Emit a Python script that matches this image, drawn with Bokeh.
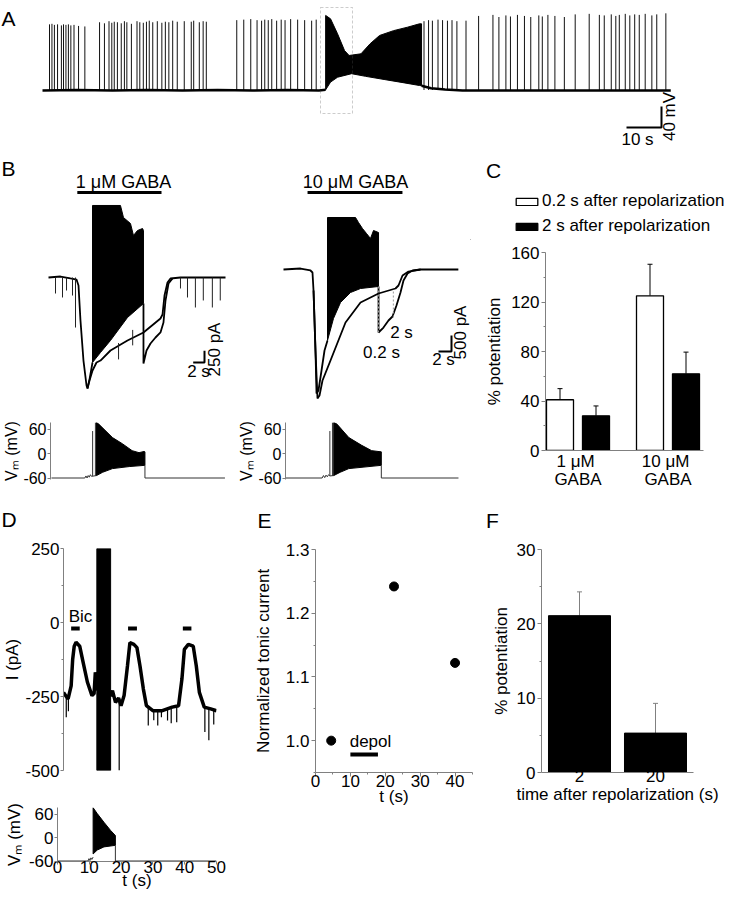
from math import pi
from bokeh.plotting import figure
from bokeh.layouts import column, row
from bokeh.models import (Range1d, FixedTicker, Label, Legend, LegendItem, Whisker, TeeHead,
                          BoxAnnotation, ColumnDataSource, PrintfTickFormatter)
from bokeh.embed import file_html
from bokeh.resources import INLINE

FONT = "Liberation Sans"
AX = "#808080"
TXT = 17
LET = 21

# ======================= DATA =======================
# ---- Panel A: spontaneous firing (t in s, V in mV)
A_spike_t = [2.0, 2.7, 3.4, 4.3, 5.4, 6.0, 6.7, 7.4, 8.1, 9.0, 10.3, 12.1,
             16.3, 17.7, 19.0, 19.8, 20.5, 21.4, 22.5, 23.4, 24.1, 25.4,
             27.0, 27.8, 28.8, 29.7, 30.5, 31.5, 32.8, 34.1, 35.1, 36.1, 37.2, 38.5, 40.5, 42.5, 43.2, 44.8, 45.9, 46.8,
             55.5, 57.5, 59.5, 61.3, 62.6, 63.5, 64.5, 65.5, 66.9, 68.2, 69.3, 70.9, 72.9, 74.9, 76.9, 78.2,
             109.0, 110.3, 111.4, 113.0, 114.3, 115.7, 117.0, 118.4, 121.0,
             124.6, 128.7, 130.4, 132.4, 133.7, 135.7, 137.7, 139.5, 141.8, 142.8, 144.4, 146.4, 149.1,
             152.2, 156.2, 159.1, 160.5, 162.5, 163.8, 164.8, 166.5, 167.8, 169.2, 170.5, 172.2, 174.1, 175.5, 178.1]
A_spike_peak = [66, 67, 65, 66, 64, 66, 65, 66, 64, 65, 63, 62,
                70, 68, 72, 69, 71, 70, 68, 72, 70, 67,
                72, 70, 69, 71, 73, 70, 72, 69, 71, 70, 73, 71, 72, 71, 73, 70, 72, 71,
                74, 75, 76, 74, 73, 75, 74, 76, 73, 75, 74, 76, 75, 74, 73, 75,
                72, 74, 73, 75, 74, 73, 74, 72, 73,
                82, 84, 80, 83, 81, 84, 82, 80, 83, 81, 84, 82, 80,
                85, 86, 84, 83, 85, 82, 84, 86, 83, 85, 84, 86, 83, 85, 87]
A_rest = -59
A_base_t = [0, 10, 20, 30, 40, 50, 60, 70, 79, 80.9]
A_base_v = [-60, -59, -60, -59, -60, -59, -60, -59, -60, -58.7]
A_burst_top_t = [80.9, 82.3, 84.3, 86.3, 87.6, 91.0, 93.6, 96.3, 100.3, 104.3, 107.7, 108.3]
A_burst_top_v = [83, 76.5, 48, 16, 6.7, 9.9, 29, 44.8, 54, 60.6, 67, 67]
A_burst_bot_t = [80.9, 82.3, 84.3, 88.3, 92.3, 97.6, 103.0, 107.7, 108.3]
A_burst_bot_v = [-58.7, -44, -34.7, -28, -33, -39, -45, -50.5, -51]
A_after_t = [108.3, 111.0, 115.0, 120.0, 179.5]
A_after_v = [-51, -55.6, -58, -60, -60]
A_scale = (10, 40)           # 10 s, 40 mV

# ---- Panel B left: 1 uM GABA (t in s, I in pA)
BL_gaba = (5.1, 20.0)
BL_ctrl_t = [0, 2.12, 3.89, 4.96, 5.31, 5.66, 6.19, 6.73, 6.90, 7.26, 7.79, 8.50, 9.20, 10.97, 13.98, 16.81,
             19.82, 20.18, 20.53, 21.06, 21.59, 23.36, 31.33]
BL_ctrl_i = [0, 21, -21, -43, -171, -919, -1774, -2308, -2372, -2201, -1987, -1816, -1774, -1560, -1346, -1175,
             -876, -791, -385, -107, -21, 0, 0]
BL_blk_top_t = [7.79, 12.74, 13.27, 14.51, 15.04, 15.75, 16.64, 16.81]
BL_blk_top_i = [1539, 1539, 1282, 1154, 898, 1004, 1047, 1004]
BL_blk_bot_t = [7.79, 9.20, 10.97, 13.98, 16.81]
BL_blk_bot_i = [-1816, -1603, -1346, -855, -556]
BL_dep_t = [6.90, 7.30, 7.79]
BL_dep_i = [-2372, -2150, -1816]
BL_post_t = [16.81, 16.81, 17.35, 18.05, 18.94, 19.82, 20.35, 20.71, 21.24, 21.95]
BL_post_i = [-556, -1838, -1560, -1410, -1282, -1175, -962, -492, -128, -21]
BL_ev_t = [1.24, 2.48, 3.19, 4.25, 4.78, 12.4, 14.9, 23.36, 24.6, 26.0, 27.4, 29.0, 30.4]
BL_ev_base = [0, 0, 0, 0, 0, -1400, -1120, 0, 0, 0, 0, 0, 0]
BL_ev_tip = [-342, -427, -278, -385, -1069, -1750, -1450, -235, -427, -641, -491, -641, -491]
BL_scale = (2, 250)

# ---- Panel B right: 10 uM GABA
BR_gaba = (3.7, 18.3)
BR_ctrl_t = [0, 2.62, 4.15, 4.46, 4.62, 4.92, 5.23, 5.54, 6.0, 7.23, 9.54, 11.85, 14.62, 17.23, 17.69,
             18.31, 19.23, 21.08, 26.9]
BR_ctrl_i = [0, 31, -31, -94, -656, -2531, -4031, -3938, -3469, -2844, -1656, -1031, -750, -594, -500,
             -188, -63, 0, 0]
BR_dep_t = [4.62, 4.92, 5.08, 5.38, 5.85, 6.31, 6.77]
BR_dep_i = [-656, -2531, -3875, -3781, -3156, -2531, -2219]
BR_blk_top_t = [6.77, 11.08, 11.54, 12.15, 12.77, 13.38, 13.85, 14.62]
BR_blk_top_i = [1625, 1625, 1469, 1281, 1125, 969, 1219, 1156]
BR_blk_bot_t = [6.77, 7.69, 8.77, 10.31, 11.85, 14.62]
BR_blk_bot_i = [-2219, -1531, -1031, -719, -594, -531]
BR_post_t = [14.62, 14.62, 15.38, 16.15, 16.77, 17.38, 18.0, 18.46, 19.08, 19.85, 21.08]
BR_post_i = [-531, -1969, -1813, -1594, -1469, -1125, -719, -344, -125, -31, 0]
BR_mark_t = [14.62, 16.9]            # 0.2 s and 2 s after repolarization
BR_mark_lo = [-1969, -1500]
BR_mark_hi = [-531, -620]
BR_scale = (2, 500)

# ---- Vm during depolarization (mV)
BL_vm_base_t = [0, 6.0, 6.2, 6.4, 6.6, 6.8, 7.0, 7.2, 8.1]
BL_vm_base_v = [-60, -60, -55, -60, -54, -58, -52, -56, -54]
BL_vm_sp_t = [7.4, 7.9]
BL_vm_sp_v = [55, 76]
BL_vm_top_t = [8.1, 8.5, 10.97, 12.74, 14.5, 15.75, 16.64, 16.81]
BL_vm_top_v = [76, 72, 39, 24, 7, 2, 5, 4]
BL_vm_bot_t = [8.1, 9.2, 10.97, 13.98, 16.81]
BL_vm_bot_v = [-54, -46, -37, -32, -29]
BL_vm_end_t = [16.81, 16.81, 31.2]
BL_vm_end_v = [-29, -60, -60]

BR_vm_base_t = [0, 5.7, 5.9, 6.1, 6.3, 6.5, 6.7, 6.9, 7.5]
BR_vm_base_v = [-60, -60, -54, -59, -53, -57, -52, -55, -54]
BR_vm_sp_t = [6.9, 7.3]
BR_vm_sp_v = [55, 76]
BR_vm_top_t = [7.5, 8.0, 9.85, 11.85, 13.4, 14.9]
BR_vm_top_v = [76, 72, 39, 20, 7, 4]
BR_vm_bot_t = [7.5, 8.5, 9.85, 14.9]
BR_vm_bot_v = [-54, -46, -37, -29]
BR_vm_end_t = [14.9, 14.9, 26.9]
BR_vm_end_v = [-29, -60, -60]

# ---- Panel C
C_groups = ["1  \u03bcM\nGABA", "10  \u03bcM\nGABA"]
C_series = ["0.2 s after repolarization", "2 s after repolarization"]
C_early = [41, 125]          # 0.2 s after repolarization
C_early_err = [9, 25.5]
C_late = [28, 62]            # 2 s after repolarization
C_late_err = [8, 17.5]

# ---- Panel D
D_pre_t = [0, 0.9, 1.5, 2.5, 3.0, 3.5, 4.1, 5.3, 6.4, 7.8, 9.3, 10.0, 10.4, 10.9]
D_pre_i = [-236, -250, -258, -214, -124, -80, -67, -80, -134, -201, -247, -240, -168, -230]
D_block = (10.9, 15.4)
D_post_t = [15.4, 16.0, 17.0, 18.0, 18.8, 19.8, 20.9, 21.7, 23.0, 24.0, 25.0, 26.1, 27.1, 29.2, 32.3,
            35.5, 37.6, 38.7, 39.5, 40.8, 42.4, 43.4, 44.4, 46.0, 48.1, 50.0]
D_post_i = [-250, -230, -270, -255, -281, -247, -147, -68, -74, -85, -147, -225, -281, -298, -298,
            -286, -281, -191, -91, -74, -80, -147, -236, -286, -292, -298]
D_ev_t = [0.9, 1.6, 18.2, 27.7, 29.5, 30.8, 32.0, 34.0, 35.2, 37.0, 46.2, 47.5, 49.1]
D_ev_base = [-250, -255, -260, -285, -298, -298, -298, -290, -288, -283, -288, -292, -298]
D_ev_tip = [-320, -300, -500, -348, -330, -348, -320, -331, -340, -337, -370, -398, -345]
D_bic = [(2.5, 5.3), (21.1, 24.0), (39.0, 41.8)]
D_vm_base_t = [0, 9.6, 9.9, 10.2, 10.5, 10.8, 11.2]
D_vm_base_v = [-60, -60, -54, -59, -52, -56, -50]
D_vm_top_t = [11.2, 12.5, 14.6, 16.7, 18.2]
D_vm_top_v = [76, 61, 39, 18, 5]
D_vm_bot_t = [11.2, 12.5, 14.6, 18.2]
D_vm_bot_v = [-42, -32, -24, -20]
D_vm_end_t = [18.2, 18.2, 50]
D_vm_end_v = [-20, -60, -60]

# ---- Panel E
E_t = [4.5, 22.5, 40.0]
E_norm = [1.0, 1.242, 1.122]
E_depol = (10.0, 17.9)

# ---- Panel F
F_labels = ["2", "20"]
F_pot = [21.1, 5.3]
F_err = [3.2, 4.0]


# ======================= LAYOUT HELPERS =======================
class Spec:
    """Placement of one figure in page pixels (origin, size, borders, axis mapping)."""
    def __init__(s, ox, oy, w, h, l=0, r=0, t=0, b=0, xmap=None, ymap=None, xr=None, yr=None):
        s.w, s.h, s.l, s.r, s.t, s.b = w, h, l, r, t, b
        s.fl, s.fr, s.ft, s.fb = ox + l, ox + w - r, oy + t, oy + h - b
        if xmap:
            a, v, k = xmap
            s.x0, s.x1 = v + (s.fl - a) / k, v + (s.fr - a) / k
        else:
            s.x0, s.x1 = xr if xr else (0, 1)
        if ymap:
            a, v, k = ymap
            s.y0, s.y1 = v - (s.fb - a) / k, v + (a - s.ft) / k
        else:
            s.y0, s.y1 = yr if yr else (0, 1)

    def dx(s, rx):
        return s.x0 + (rx - s.fl) / (s.fr - s.fl) * (s.x1 - s.x0)

    def dy(s, ry):
        return s.y0 + (s.fb - ry) / (s.fb - s.ft) * (s.y1 - s.y0)


def make_fig(s, xaxis=False, yaxis=False):
    p = figure(width=s.w, height=s.h, x_range=Range1d(s.x0, s.x1), y_range=Range1d(s.y0, s.y1),
               output_backend="svg", toolbar_location=None,
               x_axis_location="below" if xaxis else None,
               y_axis_location="left" if yaxis else None,
               min_border_left=s.l, min_border_right=s.r, min_border_top=s.t, min_border_bottom=s.b)
    if "frame_align" in p.properties():
        p.frame_align = False
    p.outline_line_color = None
    p.xgrid.visible = False
    p.ygrid.visible = False
    p.border_fill_color = "white"
    p.background_fill_color = "white"
    for ax in p.axis:
        ax.axis_line_color = AX
        ax.major_tick_line_color = AX
        ax.minor_tick_line_color = AX
        ax.major_tick_out = 4
        ax.major_tick_in = 0
        ax.minor_tick_out = 2
        ax.minor_tick_in = 0
        ax.major_label_text_font = FONT
        ax.major_label_text_font_size = f"{TXT}px"
        ax.major_label_text_color = "black"
        ax.axis_label_text_font = FONT
        ax.axis_label_text_font_size = f"{TXT}px"
        ax.axis_label_text_font_style = "normal"
        ax.axis_label_text_color = "black"
        ax.major_label_standoff = 2
        ax.axis_label_standoff = 4
    return p


def put(p, s, rx, ry, text, size=TXT, align="center", base="middle", angle=0.0):
    p.add_layout(Label(x=rx - s.fl, y=s.fb - ry, x_units="screen", y_units="screen", text=text,
                       text_font=FONT, text_font_size=f"{size}px", text_align=align,
                       text_baseline=base, angle=angle, text_color="black"))


def envelope(p, tt, tv, bt, bv):
    p.patch(list(tt) + list(reversed(bt)), list(tv) + list(reversed(bv)),
            fill_color="black", line_color="black", line_width=1)


# ======================= PANEL A =======================
sA = Spec(0, 0, 730, 150, xmap=(42, 0, 3.5), ymap=(90, -60, 0.525))
pA = make_fig(sA)
pA.segment(x0=A_spike_t, y0=[A_rest] * len(A_spike_t), x1=A_spike_t, y1=A_spike_peak,
           line_color="#111111", line_width=1)
pA.line(A_base_t, A_base_v, line_color="black", line_width=2.5)
envelope(pA, A_burst_top_t, A_burst_top_v, A_burst_bot_t, A_burst_bot_v)
pA.line(A_after_t, A_after_v, line_color="black", line_width=2.5)
pA.add_layout(BoxAnnotation(left=sA.dx(320), right=sA.dx(352), top=sA.dy(7), bottom=sA.dy(113),
                            fill_alpha=0, line_color="#555555", line_dash="3 2", line_width=1))
cx, cy = sA.dx(661), sA.dy(127)
pA.line([cx - A_scale[0], cx, cx], [cy, cy, cy + A_scale[1]], line_color="black", line_width=2)
put(pA, sA, 637, 139, "10 s")
put(pA, sA, 669, 116, "40 mV", angle=pi / 2)
put(pA, sA, 1, 18, "A", size=LET, align="left")

# ======================= PANEL B =======================
sBL = Spec(0, 150, 235, 260, xmap=(48, 0, 5.65), ymap=(277, 0, 11.7 / 250))
pBL = make_fig(sBL)
pBL.line(BL_ctrl_t, BL_ctrl_i, line_color="black", line_width=1.8)
pBL.line(BL_dep_t, BL_dep_i, line_color="black", line_width=1.8)
envelope(pBL, BL_blk_top_t, BL_blk_top_i, BL_blk_bot_t, BL_blk_bot_i)
pBL.line(BL_post_t, BL_post_i, line_color="black", line_width=1.8)
pBL.segment(x0=BL_ev_t, y0=BL_ev_base, x1=BL_ev_t, y1=BL_ev_tip, line_color="#222222", line_width=1)
gy = sBL.dy(192)
pBL.line(list(BL_gaba), [gy, gy], line_color="black", line_width=3)
put(pBL, sBL, 123, 181, "1 \u03bcM GABA", size=18)
cx, cy = sBL.dx(204), sBL.dy(362)
pBL.line([cx - BL_scale[0], cx, cx], [cy, cy, cy + BL_scale[1]], line_color="black", line_width=2)
put(pBL, sBL, 198, 371, "2 s")
put(pBL, sBL, 214, 349, "250 pA", angle=pi / 2)
put(pBL, sBL, 1, 168, "B", size=LET, align="left")

sBR = Spec(235, 150, 235, 260, xmap=(283, 0, 6.5), ymap=(269, 0, 16 / 500))
pBR = make_fig(sBR)
pBR.line(BR_ctrl_t, BR_ctrl_i, line_color="black", line_width=1.8)
pBR.line(BR_dep_t, BR_dep_i, line_color="black", line_width=1.8)
envelope(pBR, BR_blk_top_t, BR_blk_top_i, BR_blk_bot_t, BR_blk_bot_i)
pBR.line(BR_post_t, BR_post_i, line_color="black", line_width=1.8)
pBR.segment(x0=BR_mark_t, y0=BR_mark_lo, x1=BR_mark_t, y1=BR_mark_hi, line_color="#999999",
            line_width=1, line_dash="2 2")
gy = sBR.dy(192)
pBR.line(list(BR_gaba), [gy, gy], line_color="black", line_width=3)
put(pBR, sBR, 355, 181, "10 \u03bcM GABA", size=18)
put(pBR, sBR, 401, 332, "2 s")
put(pBR, sBR, 381, 352, "0.2 s")
cx, cy = sBR.dx(451), sBR.dy(351)
pBR.line([cx - BR_scale[0], cx, cx], [cy, cy, cy + BR_scale[1]], line_color="black", line_width=2)
put(pBR, sBR, 443, 359, "2 s")
put(pBR, sBR, 460, 332, "500 pA", angle=pi / 2)


def vm_fig(s, base_t, base_v, sp_t, sp_v, tt, tv, bt, bv, et, ev):
    p = make_fig(s, yaxis=True)
    p.yaxis.ticker = FixedTicker(ticks=[-60, 0, 60], minor_ticks=[])
    p.yaxis.formatter = PrintfTickFormatter(format="%d")
    p.yaxis.axis_label = "V\u2098 (mV)"
    p.yaxis.major_label_text_font_size = "16px"
    p.yaxis.axis_label_text_font_size = "16px"
    p.yaxis.major_tick_out = 3
    p.yaxis.major_label_standoff = 1
    p.yaxis.axis_label_standoff = 0
    p.line(base_t, base_v, line_color="#333333", line_width=1)
    p.segment(x0=sp_t, y0=[-55] * len(sp_t), x1=sp_t, y1=sp_v, line_color="#333333", line_width=1)
    envelope(p, tt, tv, bt, bv)
    p.line(et, ev, line_color="#333333", line_width=1)
    return p


sBLv = Spec(0, 410, 235, 95, l=47, t=12, b=26, xmap=(48, 0, 5.65), ymap=(453, 0, 24.5 / 60))
pBLv = vm_fig(sBLv, BL_vm_base_t, BL_vm_base_v, BL_vm_sp_t, BL_vm_sp_v, BL_vm_top_t, BL_vm_top_v,
              BL_vm_bot_t, BL_vm_bot_v, BL_vm_end_t, BL_vm_end_v)
sBRv = Spec(235, 410, 235, 95, l=48, t=12, b=26, xmap=(283, 0, 6.5), ymap=(453, 0, 24.5 / 60))
pBRv = vm_fig(sBRv, BR_vm_base_t, BR_vm_base_v, BR_vm_sp_t, BR_vm_sp_v, BR_vm_top_t, BR_vm_top_v,
              BR_vm_bot_t, BR_vm_bot_v, BR_vm_end_t, BR_vm_end_v)

# ======================= PANEL C =======================
gx = list(range(len(C_groups)))
xe = [g - 0.2 for g in gx]
xl = [g + 0.2 for g in gx]

# header: panel letter + legend (the series are drawn here outside the visible range,
# only their legend swatches show)
sCh = Spec(470, 150, 260, 90, xr=(50, 51), yr=(500, 501))
pCh = make_fig(sCh)
put(pCh, sCh, 493, 170, "C", size=LET)
lw = pCh.vbar(x=xe, top=C_early, width=0.3, fill_color="white", line_color="black", line_width=1.3)
lb = pCh.vbar(x=xl, top=C_late, width=0.3, fill_color="black", line_color="black", line_width=1.3)
leg = Legend(items=[LegendItem(label=C_series[0], renderers=[lw]),
                    LegendItem(label=C_series[1], renderers=[lb])],
             location=(513 - sCh.fl, sCh.fb - 236), glyph_width=27, glyph_height=9, label_height=20,
             label_text_font=FONT, label_text_font_size=f"{TXT}px", label_text_color="black",
             padding=0, margin=0, spacing=5, label_standoff=2, border_line_color=None,
             background_fill_alpha=0)
pCh.add_layout(leg)

sC = Spec(470, 240, 260, 265, l=75, r=27, t=12, b=55, xmap=(577.5, 0, 90), yr=(0, 160))
pC = make_fig(sC, xaxis=True, yaxis=True)
pC.vbar(x=xe, top=C_early, width=0.3, fill_color="white", line_color="black", line_width=1.3)
pC.vbar(x=xl, top=C_late, width=0.3, fill_color="black", line_color="black", line_width=1.3)
for xs, v, e in ((xe, C_early, C_early_err), (xl, C_late, C_late_err)):
    src = ColumnDataSource(dict(base=xs, lower=v, upper=[a + b for a, b in zip(v, e)]))
    pC.add_layout(Whisker(source=src, base="base", lower="lower", upper="upper", lower_head=None,
                          upper_head=TeeHead(size=5, line_color="black", line_width=1),
                          line_color="black", line_width=1))
pC.yaxis.ticker = FixedTicker(ticks=[0, 40, 80, 120, 160], minor_ticks=[20, 60, 100, 140])
pC.yaxis.axis_label = "% potentiation"
pC.yaxis.axis_label_standoff = 4
pC.xaxis.ticker = FixedTicker(ticks=gx, minor_ticks=[])
pC.xaxis.major_label_overrides = {i: lab for i, lab in enumerate(C_groups)}
pC.xaxis.major_tick_out = 0
pC.xaxis.major_label_standoff = 1
pC.xaxis.major_label_text_line_height = 0.95

# ======================= PANEL D / E / F =======================
sH = Spec(0, 505, 730, 32)
pH = make_fig(sH)
put(pH, sH, 1, 519, "D", size=LET, align="left")
put(pH, sH, 264, 520, "E", size=LET)
put(pH, sH, 492, 520, "F", size=LET)

sD = Spec(0, 537, 250, 253, l=57, r=34, t=11, b=20, xr=(0, 50), yr=(-500, 250))
pD = make_fig(sD, yaxis=True)
pD.yaxis.ticker = FixedTicker(ticks=[-500, -250, 0, 250], minor_ticks=[-375, -125, 125])
pD.yaxis.formatter = PrintfTickFormatter(format="%d")
pD.yaxis.axis_label = "I (pA)"
pD.yaxis.major_tick_out = 3
pD.yaxis.major_label_standoff = 1
pD.yaxis.axis_label_standoff = 0
pD.line(D_pre_t, D_pre_i, line_color="black", line_width=3.5)
pD.quad(left=[D_block[0]], right=[D_block[1]], bottom=[-500], top=[250], color="black")
pD.line(D_post_t, D_post_i, line_color="black", line_width=3.5)
pD.segment(x0=D_ev_t, y0=D_ev_base, x1=D_ev_t, y1=D_ev_tip, line_color="black", line_width=1.2)
by = sD.dy(628)
for a, b in D_bic:
    pD.line([a, b], [by, by], line_color="black", line_width=4)
put(pD, sD, 74, 616, "Bic")

sDv = Spec(0, 790, 250, 108, l=57, r=34, t=17, b=37, xr=(0, 50), ymap=(837, 0, 47 / 120))
pDv = make_fig(sDv, xaxis=True, yaxis=True)
pDv.yaxis.ticker = FixedTicker(ticks=[-60, 0, 60], minor_ticks=[])
pDv.yaxis.formatter = PrintfTickFormatter(format="%d")
pDv.yaxis.axis_label = "V\u2098 (mV)"
pDv.yaxis.major_tick_out = 3
pDv.yaxis.major_label_standoff = 1
pDv.yaxis.axis_label_standoff = 2
pDv.xaxis.ticker = FixedTicker(ticks=[0, 10, 20, 30, 40, 50], minor_ticks=[])
pDv.xaxis.axis_label = "t (s)"
pDv.xaxis.major_tick_out = 3
pDv.xaxis.major_label_standoff = -4
pDv.xaxis.axis_label_standoff = -5
pDv.line(D_vm_base_t, D_vm_base_v, line_color="#333333", line_width=1)
envelope(pDv, D_vm_top_t, D_vm_top_v, D_vm_bot_t, D_vm_bot_v)
pDv.line(D_vm_end_t, D_vm_end_v, line_color="#333333", line_width=1)

sE = Spec(250, 537, 230, 278, l=61, r=8, t=12, b=43, xr=(0, 45), yr=(0.95, 1.3))
pE = make_fig(sE, xaxis=True, yaxis=True)
pE.xaxis.ticker = FixedTicker(ticks=[0, 10, 20, 30, 40], minor_ticks=[5, 15, 25, 35, 45])
pE.yaxis.ticker = FixedTicker(ticks=[1.0, 1.1, 1.2, 1.3], minor_ticks=[0.95, 1.05, 1.15, 1.25])
pE.yaxis.formatter = PrintfTickFormatter(format="%.1f")
pE.yaxis.axis_label = "Normalized tonic current"
pE.yaxis.axis_label_standoff = 10
pE.xaxis.axis_label = "t (s)"
pE.xaxis.major_label_standoff = -2
pE.xaxis.axis_label_standoff = -3
pE.scatter(E_t, E_norm, size=9, color="black")
dy_ = sE.dy(754)
pE.line(list(E_depol), [dy_, dy_], line_color="black", line_width=4)
put(pE, sE, 366, 741, "depol")

sF = Spec(480, 537, 250, 272, l=61, r=37, t=12, b=37, xmap=(579, 0, 76), yr=(0, 30))
pF = make_fig(sF, xaxis=True, yaxis=True)
fx = list(range(len(F_labels)))
pF.vbar(x=fx, top=F_pot, width=0.816, fill_color="black", line_color="black")
srcF = ColumnDataSource(dict(base=fx, lower=F_pot, upper=[a + b for a, b in zip(F_pot, F_err)]))
pF.add_layout(Whisker(source=srcF, base="base", lower="lower", upper="upper", lower_head=None,
                      upper_head=TeeHead(size=5, line_color=AX, line_width=1),
                      line_color=AX, line_width=1))
pF.yaxis.ticker = FixedTicker(ticks=[0, 10, 20, 30], minor_ticks=[5, 15, 25])
pF.yaxis.axis_label = "% potentiation"
pF.yaxis.axis_label_standoff = 3
pF.xaxis.ticker = FixedTicker(ticks=fx, minor_ticks=[])
pF.xaxis.major_label_overrides = {i: lab for i, lab in enumerate(F_labels)}
pF.xaxis.major_tick_out = 0
pF.xaxis.major_label_standoff = -3
pF.xaxis.axis_label = "time after repolarization (s)"
pF.xaxis.axis_label_standoff = 0

layout = column(
    pA,
    row(column(pBL, pBLv), column(pBR, pBRv), column(pCh, pC)),
    pH,
    row(column(pD, pDv), pE, pF),
)
open("out.html", "w").write(file_html(layout, INLINE, title="GABA potentiation figure"))
